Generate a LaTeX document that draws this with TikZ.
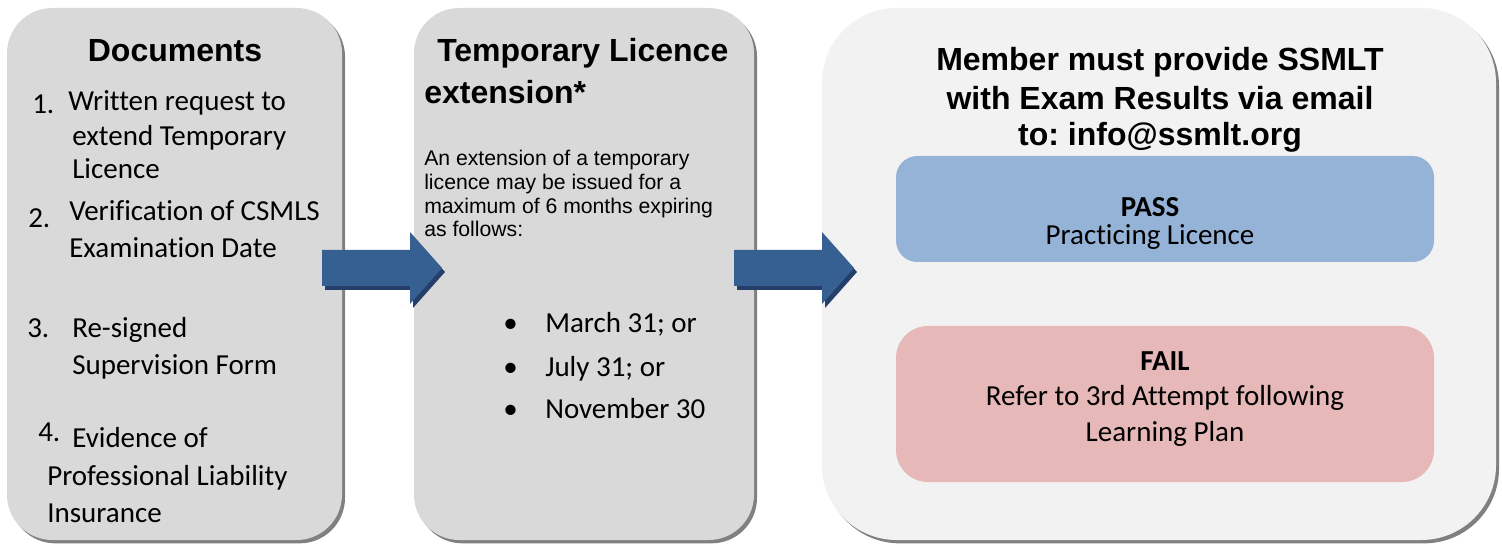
\documentclass[tikz,border=0pt]{standalone}
\usepackage{fontspec}
\setmainfont{Carlito}[Ligatures=NoCommon]
\newfontfamily\arialfont{Liberation Sans}
\usetikzlibrary{fit,shadows}
\frenchspacing

\definecolor{panelgray}{HTML}{D9D9D9}
\definecolor{panellight}{HTML}{F2F2F2}
\definecolor{shadegray}{HTML}{808080}
\definecolor{passblue}{HTML}{95B3D7}
\definecolor{failred}{HTML}{E6B8B7}
\definecolor{arrowblue}{HTML}{376092}
\definecolor{arrowdark}{HTML}{24406A}

\tikzset{
  panel/.style={fill=#1, inner sep=0pt, rounded corners=34pt,
    drop shadow={shadow xshift=2.25pt, shadow yshift=-2.5pt, opacity=1, fill=shadegray}},
  result/.style={fill=#1, inner sep=0pt, rounded corners=16pt},
  heading/.style={font=\arialfont\bfseries\fontsize{24}{28}\selectfont, inner sep=0pt},
  bodytxt/.style={font=\fontsize{21.75}{26}\selectfont, anchor=base west, inner sep=0pt},
  paratxt/.style={font=\arialfont\fontsize{15.9}{19}\selectfont, anchor=base west, inner sep=0pt},
  midtxt/.style={font=\fontsize{21.75}{26}\selectfont, anchor=base, inner sep=0pt},
  blockarrow/.style={fill=arrowblue},
  blockshade/.style={fill=arrowdark}
}

\begin{document}
\begin{tikzpicture}[x=0.75pt,y=-0.75pt]
    \useasboundingbox[fill=white] (0,0) rectangle (1502,548);

    % the three panels
    \node[panel=panelgray, fit={(7,8) (342,540)}] (docs) {};
    \node[panel=panelgray, fit={(414,8) (754,540)}] (temp) {};
    \node[panel=panellight, rounded corners=56pt, fit={(822,8) (1496,540)}] (member) {};

    % block arrows between the panels
    \coordinate (arrA) at (322,250);
    \coordinate (arrB) at (734,250);
    \foreach \p in {arrA,arrB}{
      \fill[blockshade] ([shift={(3,4)}]\p) -- ++(88,0) -- ++(0,-18) -- ++(32,36)
            -- ++(-32,36) -- ++(0,-18) -- ++(-88,0) -- cycle;
      \fill[blockarrow] (\p) -- ++(88,0) -- ++(0,-18) -- ++(32,36)
            -- ++(-32,36) -- ++(0,-18) -- ++(-88,0) -- cycle;
    }

    % documents
    \node[heading, anchor=base] (docT) at (175,62) {Documents};
    \node[bodytxt] (n1) at (32,114) {1.};
    \node[bodytxt] (d1a) at (68,111) {Written request to};
    \node[bodytxt] (d1b) at (72,146) {extend Temporary};
    \node[bodytxt] (d1c) at (72,179) {Licence};
    \node[bodytxt] (n2) at (28,228) {2.};
    \node[bodytxt] (d2a) at (69,221) {Verification of CSMLS};
    \node[bodytxt] (d2b) at (69,258) {Examination Date};
    \node[bodytxt] (n3) at (27,338) {3.};
    \node[bodytxt] (d3a) at (72,338) {Re-signed};
    \node[bodytxt] (d3b) at (72,375) {Supervision Form};
    \node[bodytxt] (n4) at (38,442) {4.};
    \node[bodytxt] (d4a) at (72,448) {Evidence of};
    \node[bodytxt] (d4b) at (47,485) {Professional Liability};
    \node[bodytxt] (d4c) at (47,522) {Insurance};

    % temporary licence extension
    \node[heading, anchor=base west] (tmpT) at (437,62) {Temporary Licence};
    \node[heading, anchor=base west] (tmpU) at (424,104) {extension*};
    \node[paratxt] (p1) at (424,166) {An extension of a temporary};
    \node[paratxt] (p2) at (424,190) {licence may be issued for a};
    \node[paratxt] (p3) at (424,214) {maximum of 6 months expiring};
    \node[paratxt] (p4) at (424,237) {as follows:};
    \node[bodytxt] (b1) at (503,333) {\textbullet};
    \node[bodytxt] (m1) at (545,333) {March 31; or};
    \node[bodytxt] (b2) at (503,377) {\textbullet};
    \node[bodytxt] (m2) at (545,377) {July 31; or};
    \node[bodytxt] (b3) at (503,419) {\textbullet};
    \node[bodytxt] (m3) at (545,419) {November 30};

    % exam results
    \node[heading, anchor=base] (memA) at (1160,71) {Member must provide SSMLT};
    \node[heading, anchor=base] (memB) at (1160,110) {with Exam Results via email};
    \node[heading, anchor=base] (memC) at (1160,146) {to: info@ssmlt.org};

    \node[result=passblue, fit={(896,156) (1434,262)}] (pass) {};
    \node[midtxt, font=\bfseries\fontsize{21.75}{26}\selectfont] (passT) at (1150,217) {PASS};
    \node[midtxt] (passU) at (1150,245) {Practicing Licence};

    \node[result=failred, rounded corners=24pt, fit={(896,326) (1434,482)}] (fail) {};
    \node[midtxt, font=\bfseries\fontsize{21.75}{26}\selectfont] (failT) at (1165,371) {FAIL};
    \node[midtxt] (failU) at (1165,406) {Refer to 3rd Attempt following};
    \node[midtxt] (failV) at (1165,441) {Learning Plan};
\end{tikzpicture}
\end{document}
